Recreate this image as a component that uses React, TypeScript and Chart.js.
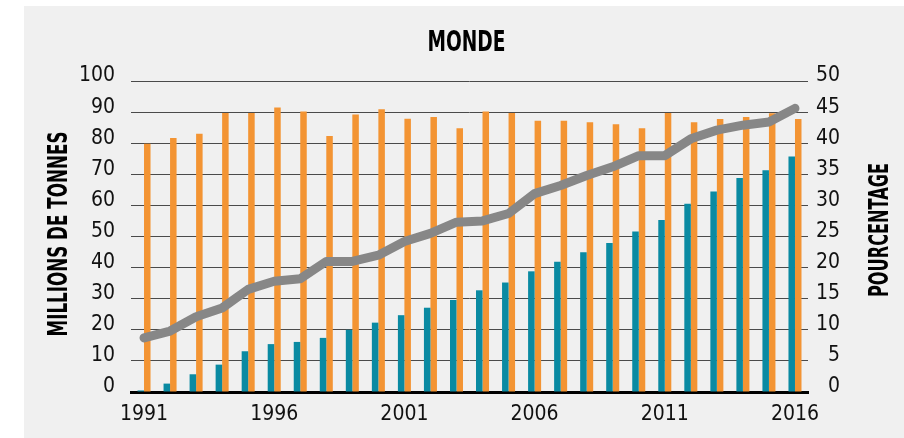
import React, { useEffect, useRef } from 'react';
import { Chart, registerables } from 'chart.js';

Chart.register(...registerables);

const years = [
  '1991', '1992', '1993', '1994', '1995', '1996', '1997', '1998', '1999', '2000',
  '2001', '2002', '2003', '2004', '2005', '2006', '2007', '2008', '2009', '2010',
  '2011', '2012', '2013', '2014', '2015', '2016',
];
const shownYears = ['1991', '1996', '2001', '2006', '2011', '2016'];

// Aquaculture (teal), millions of tonnes
const aquacultureValues = [
  0.5, 2.7, 5.7, 8.8, 13.1, 15.4, 16.1, 17.4, 20.0, 22.3,
  24.7, 27.1, 29.6, 32.7, 35.2, 38.8, 41.9, 44.9, 47.9, 51.6,
  55.3, 60.5, 64.5, 68.8, 71.3, 75.7,
];
// Capture (orange), millions of tonnes
const captureValues = [
  79.8, 81.7, 83.0, 89.7, 89.7, 91.5, 90.2, 82.3, 89.2, 90.9,
  87.9, 88.4, 84.8, 90.2, 89.7, 87.2, 87.2, 86.7, 86.1, 84.8,
  89.7, 86.7, 87.8, 88.4, 89.6, 87.8,
];
// Percentage (gray line), right axis
const percentValues = [
  8.7, 9.8, 12.1, 13.5, 16.5, 17.8, 18.2, 21.0, 21.0, 22.0,
  24.2, 25.5, 27.3, 27.5, 28.7, 31.9, 33.2, 34.8, 36.2, 38.0,
  38.0, 40.7, 42.1, 42.9, 43.4, 45.6,
];

const TITLE = 'MONDE';
const LEFT_TITLE = 'MILLIONS DE TONNES';
const RIGHT_TITLE = 'POURCENTAGE';

const NARROW = "'DejaVu Sans Condensed', 'Liberation Sans Narrow', sans-serif";

function drawScaledText(
  ctx: CanvasRenderingContext2D, text: string, cx: number, cy: number,
  maxLen: number, size: number, rotate: boolean,
) {
  ctx.save();
  ctx.translate(cx, cy);
  if (rotate) ctx.rotate(-Math.PI / 2);
  ctx.font = `bold ${size}px ${NARROW}`;
  const w = ctx.measureText(text).width;
  const s = Math.min(1, maxLen / w);
  ctx.scale(s, 1);
  ctx.fillStyle = '#000';
  ctx.textAlign = 'center';
  ctx.textBaseline = 'middle';
  ctx.fillText(text, 0, 1);
  ctx.restore();
}

const decorPlugin = {
  id: 'decor',
  beforeDraw(chart: any) {
    const ctx = chart.ctx;
    ctx.save();
    ctx.fillStyle = '#ffffff';
    ctx.fillRect(0, 0, chart.width, chart.height);
    ctx.fillStyle = '#f0f0f0';
    ctx.fillRect(24, 6, chart.width - 24, chart.height - 6);
    ctx.restore();
  },
  afterDraw(chart: any) {
    const ctx = chart.ctx;
    const area = chart.chartArea;
    drawScaledText(ctx, TITLE, (area.left + area.right) / 2 - 3, 43, 78, 28, false);
    drawScaledText(ctx, LEFT_TITLE, 59, 234, 205, 27, true);
    drawScaledText(ctx, RIGHT_TITLE, 880, 230, 134, 27, true);
  },
};

export default function App() {
  const canvasRef = useRef<HTMLCanvasElement | null>(null);

  useEffect(() => {
    if (!canvasRef.current) return;
    const tickFont = { family: NARROW, size: 21 };
    const chart = new Chart(canvasRef.current, {
      type: 'bar',
      data: {
        labels: years,
        datasets: [
          {
            type: 'line',
            label: 'Pourcentage',
            data: percentValues,
            yAxisID: 'y1',
            borderColor: '#878787',
            borderWidth: 9,
            pointRadius: 0,
            borderCapStyle: 'round',
            borderJoinStyle: 'round',
            tension: 0,
            fill: false,
            order: 0,
          } as any,
          {
            type: 'bar',
            label: 'Aquaculture',
            data: aquacultureValues,
            yAxisID: 'y',
            backgroundColor: '#0a8aa2',
            borderWidth: 0,
            categoryPercentage: 0.5,
            barPercentage: 1.0,
            order: 1,
          },
          {
            type: 'bar',
            label: 'Capture',
            data: captureValues,
            yAxisID: 'y',
            backgroundColor: '#f39433',
            borderWidth: 0,
            categoryPercentage: 0.5,
            barPercentage: 1.0,
            order: 1,
          },
        ],
      },
      options: {
        responsive: false,
        animation: false,
        layout: { padding: { top: 81, left: 0, right: 64, bottom: 0 } },
        plugins: {
          legend: { display: false },
          tooltip: { enabled: false },
          title: { display: false },
        },
        scales: {
          x: {
            offset: true,
            grid: { display: false, drawTicks: false },
            border: { display: true, color: '#000', width: 3 },
            ticks: {
              autoSkip: false,
              maxRotation: 0,
              minRotation: 0,
              padding: 10,
              font: tickFont,
              color: '#111',
              callback: (_v: any, i: number) => (shownYears.includes(years[i]) ? years[i] : null),
            },
            afterFit: (s: any) => { s.height = 46; },
          },
          y: {
            position: 'left',
            min: 0,
            max: 100,
            ticks: { stepSize: 10, padding: 16, labelOffset: -5, font: tickFont, color: '#111' },
            grid: { color: '#4a4a4a', lineWidth: 1, drawTicks: false },
            border: { display: false },
            afterFit: (s: any) => { s.width = 131; },
          },
          y1: {
            position: 'right',
            min: 0,
            max: 50,
            ticks: { stepSize: 5, padding: 8, crossAlign: 'far', labelOffset: -5, font: tickFont, color: '#111' },
            grid: { display: false, drawTicks: false },
            border: { display: false },
            afterFit: (s: any) => { s.width = 32; },
          },
        },
      } as any,
      plugins: [decorPlugin],
    });
    return () => chart.destroy();
  }, []);

  return (
    <div style={{ position: 'fixed', left: 0, top: 0, width: 904, height: 438 }}>
      <canvas ref={canvasRef} width={904} height={438} />
    </div>
  );
}
